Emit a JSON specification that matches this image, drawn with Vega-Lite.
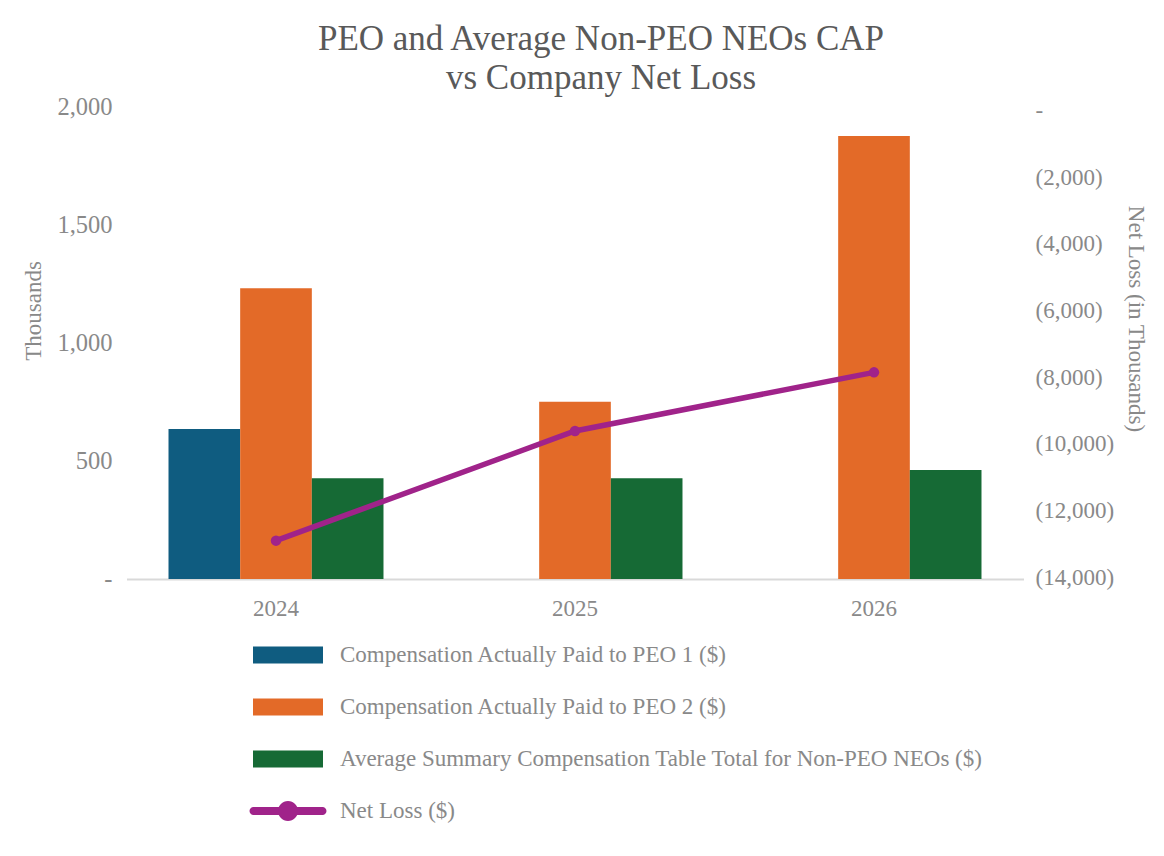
{
  "$schema": "https://vega.github.io/schema/vega-lite/v6.json",
  "description": "PEO and average non-PEO NEO compensation actually paid vs company net loss, 2024-2026.",
  "width": 897,
  "height": 472,
  "autosize": "none",
  "padding": {"left": 126.5, "top": 107, "right": 140.5, "bottom": 277},
  "background": "white",
  "config": {
    "font": "Liberation Serif",
    "view": {"stroke": null}
  },
  "title": {
    "text": ["PEO and Average Non-PEO NEOs CAP", "vs Company Net Loss"],
    "fontSize": 35,
    "fontWeight": "normal",
    "font": "Liberation Serif",
    "color": "#595959",
    "lineHeight": 39,
    "anchor": "middle",
    "dx": 26,
    "offset": -1.5
  },
  "datasets": {
    "bars": [
      {"year": "2024", "series": "Compensation Actually Paid to PEO 1 ($)", "value": 636},
      {"year": "2024", "series": "Compensation Actually Paid to PEO 2 ($)", "value": 1232},
      {"year": "2024", "series": "Average Summary Compensation Table Total for Non-PEO NEOs ($)", "value": 427},
      {"year": "2025", "series": "Compensation Actually Paid to PEO 2 ($)", "value": 751},
      {"year": "2025", "series": "Average Summary Compensation Table Total for Non-PEO NEOs ($)", "value": 427},
      {"year": "2026", "series": "Compensation Actually Paid to PEO 2 ($)", "value": 1877},
      {"year": "2026", "series": "Average Summary Compensation Table Total for Non-PEO NEOs ($)", "value": 462}
    ],
    "loss": [
      {"year": "2024", "series": "Net Loss ($)", "netloss": -12910},
      {"year": "2025", "series": "Net Loss ($)", "netloss": -9620},
      {"year": "2026", "series": "Net Loss ($)", "netloss": -7860}
    ]
  },
  "layer": [
    {
      "data": {"name": "bars"},
      "mark": {"type": "bar"},
      "encoding": {
        "x": {
          "field": "year",
          "type": "nominal",
          "scale": {"paddingInner": 0.281, "paddingOuter": 0.1405},
          "axis": {
            "title": null,
            "labelAngle": 0,
            "ticks": false,
            "tickSize": 0,
            "labelPadding": 18,
            "labelFontSize": 23,
            "labelColor": "#898989",
            "labelFont": "Liberation Serif",
            "domainColor": "#d9d9d9",
            "domainWidth": 2
          }
        },
        "xOffset": {
          "field": "series",
          "type": "nominal",
          "scale": {
            "domain": [
              "Compensation Actually Paid to PEO 1 ($)",
              "Compensation Actually Paid to PEO 2 ($)",
              "Average Summary Compensation Table Total for Non-PEO NEOs ($)"
            ],
            "paddingInner": 0,
            "paddingOuter": 0
          }
        },
        "y": {
          "field": "value",
          "type": "quantitative",
          "scale": {"domain": [0, 2000], "nice": false},
          "axis": {
            "values": [0, 500, 1000, 1500, 2000],
            "labelExpr": "datum.value === 0 ? '-' : format(datum.value, ',')",
            "title": "Thousands",
            "titleX": -93.5,
            "titleY": 203.5,
            "titleBaseline": "middle",
            "titleFontSize": 23,
            "titleFontWeight": "normal",
            "titleColor": "#898989",
            "titleFont": "Liberation Serif",
            "grid": false,
            "domain": false,
            "ticks": false,
            "tickSize": 0,
            "labelPadding": 14.5,
            "labelFontSize": 24.5,
            "labelColor": "#898989",
            "labelFont": "Liberation Serif"
          }
        },
        "color": {
          "field": "series",
          "type": "nominal",
          "scale": {
            "domain": [
              "Compensation Actually Paid to PEO 1 ($)",
              "Compensation Actually Paid to PEO 2 ($)",
              "Average Summary Compensation Table Total for Non-PEO NEOs ($)",
              "Net Loss ($)"
            ],
            "range": ["#0f5c80", "#e36a28", "#166a35", "#a0238a"]
          },
          "legend": {
            "title": null,
            "orient": "none",
            "legendX": 126.5,
            "legendY": 533,
            "direction": "vertical",
            "padding": 0,
            "symbolSize": 900,
            "symbolStrokeWidth": 0,
            "rowPadding": 25,
            "labelFontSize": 23,
            "labelColor": "#898989",
            "labelFont": "Liberation Serif",
            "labelLimit": 900,
            "encode": {
              "symbols": {
                "update": {
                  "shape": {"signal": "datum.value === 'Net Loss ($)' ? 'M-0.986,-0.114L0.986,-0.114A0.114,0.114 0 0 1 0.986,0.114L-0.986,0.114A0.114,0.114 0 0 1 -0.986,-0.114Z M0.286,0A0.286,0.286 0 1 1 -0.286,0A0.286,0.286 0 1 1 0.286,0Z' : 'M-1,-0.243L1,-0.243L1,0.243L-1,0.243Z'"},
                  "size": {"value": 4900},
                  "x": {"value": 35},
                  "y": {"value": 15},
                  "fill": {"scale": "color", "field": "value"},
                  "stroke": {"scale": "color", "field": "value"},
                  "strokeWidth": {"value": 0},
                  "opacity": {"value": 1}
                }
              },
              "labels": {
                "update": {
                  "x": {"value": 87},
                  "y": {"value": 15},
                  "baseline": {"value": "middle"}
                }
              }
            }
          }
        }
      }
    },
    {
      "data": {"name": "loss"},
      "mark": {"type": "line", "strokeWidth": 5.5, "point": {"filled": true, "size": 110}},
      "encoding": {
        "x": {"field": "year", "type": "nominal"},
        "y": {
          "field": "netloss",
          "type": "quantitative",
          "scale": {"domain": [-14060, 100], "nice": false, "zero": false},
          "axis": {
            "orient": "right",
            "values": [0, -2000, -4000, -6000, -8000, -10000, -12000, -14000],
            "labelExpr": "datum.value === 0 ? '-' : '(' + format(-datum.value, ',') + ')'",
            "title": "Net Loss (in Thousands)",
            "titleX": 111.5,
            "titleY": 211.5,
            "titleAngle": 90,
            "titleBaseline": "middle",
            "titleFontSize": 23,
            "titleFontWeight": "normal",
            "titleColor": "#898989",
            "titleFont": "Liberation Serif",
            "grid": false,
            "domain": false,
            "ticks": false,
            "tickSize": 0,
            "labelPadding": 11.5,
            "labelFontSize": 23,
            "labelColor": "#898989",
            "labelFont": "Liberation Serif"
          }
        },
        "color": {"field": "series", "type": "nominal"}
      }
    }
  ],
  "resolve": {"scale": {"y": "independent"}}
}
